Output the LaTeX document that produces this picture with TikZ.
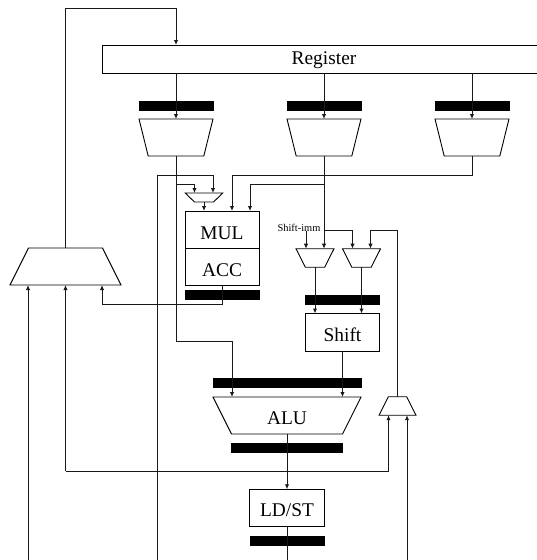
\documentclass[tikz,border=0pt]{standalone}
\usepackage{fontspec}
\setmainfont{Liberation Serif}
\usetikzlibrary{arrows.meta}
\tikzset{
  wire/.style={line width=0.95pt,draw=black!90},
  arr/.style={wire,-{Latex[length=5pt,width=4.4pt]}},
  box/.style={draw=black,line width=0.9pt,rectangle,inner sep=0pt,outer sep=0pt,font=\fontsize{19.4}{22}\selectfont,text depth=0pt},
  bar/.style={fill=black,draw=none,rectangle,inner sep=0pt,outer sep=0pt,minimum height=10pt},
  muxframe/.style={draw=none,rectangle,inner sep=0pt,outer sep=0pt,font=\fontsize{19.4}{22}\selectfont,text depth=0pt},
  muxline/.style={draw=black,line width=0.9pt,line join=miter},
}
\newcommand{\wideTop}[2]{\draw[muxline] (#1.north west) -- (#1.north east) -- ([xshift=-#2pt]#1.south east) -- ([xshift=#2pt]#1.south west) -- cycle;}
\newcommand{\wideBottom}[2]{\draw[muxline] ([xshift=#2pt]#1.north west) -- ([xshift=-#2pt]#1.north east) -- (#1.south east) -- (#1.south west) -- cycle;}
\begin{document}
\begin{tikzpicture}[x=1pt,y=-1pt]
\useasboundingbox (0,0) rectangle (537,560);
% blocks
\node[box,minimum width=440pt,minimum height=28pt,text height=10.8pt] (reg) at (322,59) {\hspace{4pt}Register};
\node[bar,minimum width=75pt] (b1) at (176.5,105.5) {};
\node[bar,minimum width=75pt] (b2) at (324.5,105.5) {};
\node[bar,minimum width=75pt] (b3) at (472.5,105.5) {};
\node[muxframe,minimum width=74pt,minimum height=37pt] (m1) at (176,137.5) {};
\node[muxframe,minimum width=74pt,minimum height=37pt] (m2) at (324,137.5) {};
\node[muxframe,minimum width=74pt,minimum height=37pt] (m3) at (472,137.5) {};
\wideTop{m1}{9.2}\wideTop{m2}{9.2}\wideTop{m3}{9.2}
\node[muxframe,minimum width=37.5pt,minimum height=9pt] (sm) at (204,197.5) {};
\wideTop{sm}{9.2}
\node[box,minimum width=74pt,minimum height=37pt,text height=19.8pt] (mul) at (222,229.5) {MUL};
\node[box,minimum width=74pt,minimum height=37.5pt,text height=19.8pt] (acc) at (222,267) {ACC};
\node[bar,minimum width=75pt] (b4) at (222.5,295) {};
\node[muxframe,minimum width=111pt,minimum height=37pt] (big) at (65.5,266.5) {};
\wideBottom{big}{18.5}
\node[font=\fontsize{10.4}{12}\selectfont,inner sep=0pt] (imm) at (299,228) {Shift-imm};
\node[muxframe,minimum width=38pt,minimum height=18.5pt] (ma) at (315,258) {};
\node[muxframe,minimum width=38pt,minimum height=18.5pt] (mb) at (361.5,258) {};
\wideTop{ma}{9.3}\wideTop{mb}{9.3}
\node[bar,minimum width=75pt] (b5) at (342.5,300) {};
\node[box,minimum width=74.4pt,minimum height=37.5pt,text height=18.8pt] (shift) at (342.5,332.2) {Shift};
\node[bar,minimum width=149pt] (b6) at (287.3,383) {};
\node[muxframe,minimum width=148pt,minimum height=37pt,text height=18.8pt] (alu) at (287,415.5) {ALU};
\wideTop{alu}{18.5}
\node[bar,minimum width=112pt] (b7) at (287.2,448) {};
\node[muxframe,minimum width=37pt,minimum height=18.5pt] (mc) at (397.5,406) {};
\wideBottom{mc}{9.3}
\node[box,minimum width=74.6pt,minimum height=37.5pt,text height=17.8pt] (ldst) at (287,508) {LD/ST};
\node[bar,minimum width=75pt] (b8) at (287.3,541) {};
% free ends and ports
\coordinate (botA) at (28,562);
\coordinate (botB) at (157,562);
\coordinate (botC) at (407,562);
\coordinate (botD) at (287,562);
\coordinate (topL) at (65.5,8);
\coordinate (topR) at (176,8);
\coordinate (smL) at (194.5,193);
\coordinate (smR) at (213,193);
\coordinate (mulL) at (232,211);
\coordinate (mulR) at (250,211);
\coordinate (row) at (0,175);
\coordinate (rowb) at (0,184);
\coordinate (maL) at (306,248.7);
\coordinate (maR) at (324,248.7);
\coordinate (mbL) at (352.5,248.7);
\coordinate (mbR) at (370.5,248.7);
\coordinate (sel) at (0,230.5);
\coordinate (ssL) at (315,313.5);
\coordinate (ssR) at (361.5,313.5);
\coordinate (aluL) at (232,397);
\coordinate (aluR) at (342.5,397);
\coordinate (bigA) at (28,285);
\coordinate (bigB) at (65.5,285);
\coordinate (bigC) at (102,285);
\coordinate (mcL) at (388.5,415.2);
\coordinate (mcR) at (407,415.2);
% connectors
\draw[arr] (big.north -| topL) -- (topL) -- (topR) -- (reg.north -| topR);
\draw[arr] (reg.south -| m1.north) -- (m1.north);
\draw[arr] (reg.south -| m2.north) -- (m2.north);
\draw[arr] (reg.south -| m3.north) -- (m3.north);
% mux 1 output
\draw[arr] (m1.south) -- (m1.south |- 0,341) -- (aluL |- 0,341) -- (aluL);
\draw[arr] (m1.south |- rowb) -- (smL |- rowb) -- (smL);
% mux 2 output
\draw[arr] (m2.south) -- (maR);
\draw[arr] (m2.south |- rowb) -- (mulR |- rowb) -- (mulR);
\draw[arr] (m2.south |- sel) -- (mbL |- sel) -- (mbL);
% mux 3 output
\draw[arr] (m3.south) -- (m3.south |- row) -- (mulL |- row) -- (mulL);
\draw[arr] (botB) -- (botB |- row) -- (smR |- row) -- (smR);
\draw[arr] (sm.south) -- (sm.south |- mul.north);
% shift-imm
\draw[arr] (maL |- sel) -- (maL);
\draw[arr] (mc.north) -- (mc.north |- sel) -- (mbR |- sel) -- (mbR);
\draw[arr] (ma.south) -- (ssL);
\draw[arr] (mb.south) -- (ssR);
\draw[arr] (shift.south) -- (aluR);
% ACC feedback
\draw[arr] (acc.south) -- (acc.south |- 0,304.5) -- (bigC |- 0,304.5) -- (bigC);
\draw[arr] (botA) -- (bigA);
\draw[arr] (bigB |- 0,471) -- (bigB);
\draw[arr] (bigB |- 0,471) -- (mcL |- 0,471) -- (mcL);
\draw[arr] (botC) -- (mcR);
% ALU and LD/ST
\draw[arr] (alu.south) -- (ldst.north);
\draw[wire] (ldst.south) -- (botD);
\end{tikzpicture}
\end{document}
